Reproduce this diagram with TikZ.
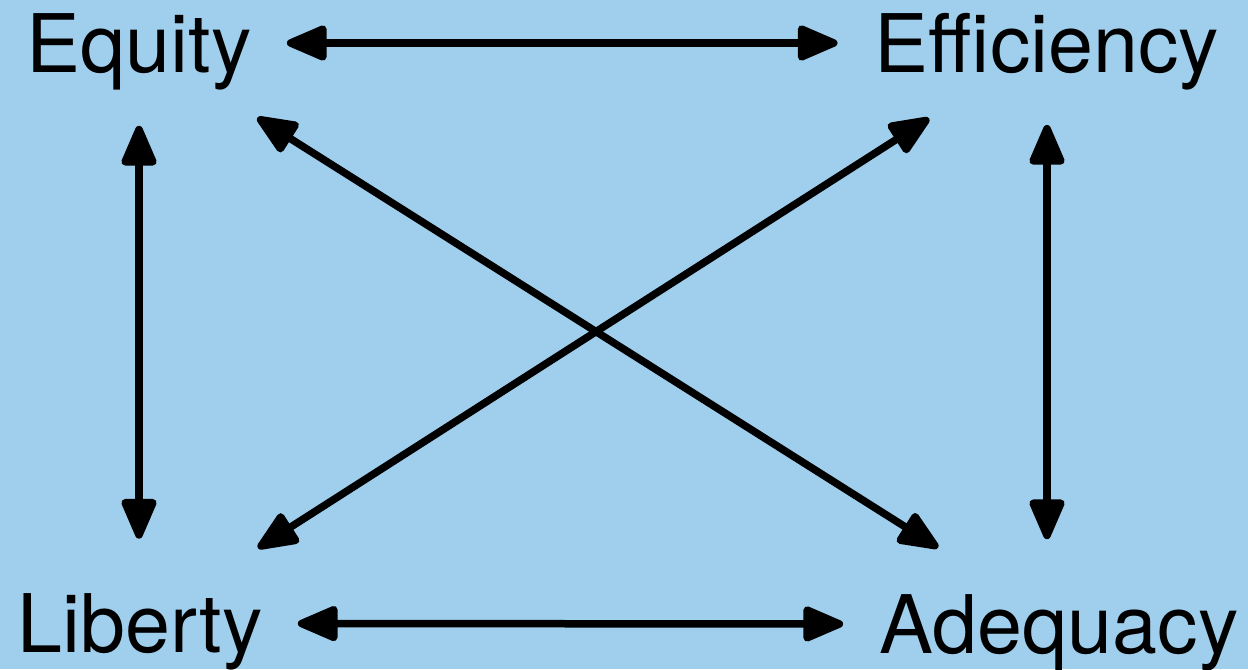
\documentclass[tikz,border=0pt]{standalone}
\usepackage{fontspec}
\setmainfont{TeX Gyre Heros}
\usetikzlibrary{arrows.meta}
\definecolor{boardblue}{RGB}{160,207,237}

\begin{document}
\begin{tikzpicture}[
        value/.style={inner sep=0pt, text depth=0pt, font=\fontsize{46}{55}\selectfont},
        link/.style={{Triangle[length=0.92cm, width=0.74cm, round]}-{Triangle[length=0.92cm, width=0.74cm, round]}, line width=0.15cm}
    ]
        \fill[boardblue] (0,0) rectangle (24.96,13.38);
        \useasboundingbox (0,0) rectangle (24.96,13.38);

        \node[value] (equity) at (2.78,12.52) {Equity};
        \node[value] (efficiency) at (20.94,12.52) {Efficiency};
        \node[value] (liberty) at (2.80,0.91) {Liberty};
        \node[value] (adequacy) at (21.18,0.90) {Adequacy};

        \draw[link, shorten <=0.7cm, shorten >=0.74cm] (equity.east) -- (efficiency.west);
        \draw[link, shorten <=0.7cm, shorten >=0.72cm] (liberty.east) -- (adequacy.west);
        \draw[link, shorten <=1.06cm, shorten >=1.1cm] (equity.south) -- (equity.south |- liberty.north);
        \draw[link, shorten <=1.04cm, shorten >=1.1cm] (efficiency.south) -- (efficiency.south |- adequacy.north);

        \draw[link, shorten <=2.8cm, shorten >=2.86cm] (equity.center) -- (adequacy.center);
        \draw[link, shorten <=2.8cm, shorten >=2.8cm] (efficiency.center) -- (liberty.center);
    \end{tikzpicture}
\end{document}
